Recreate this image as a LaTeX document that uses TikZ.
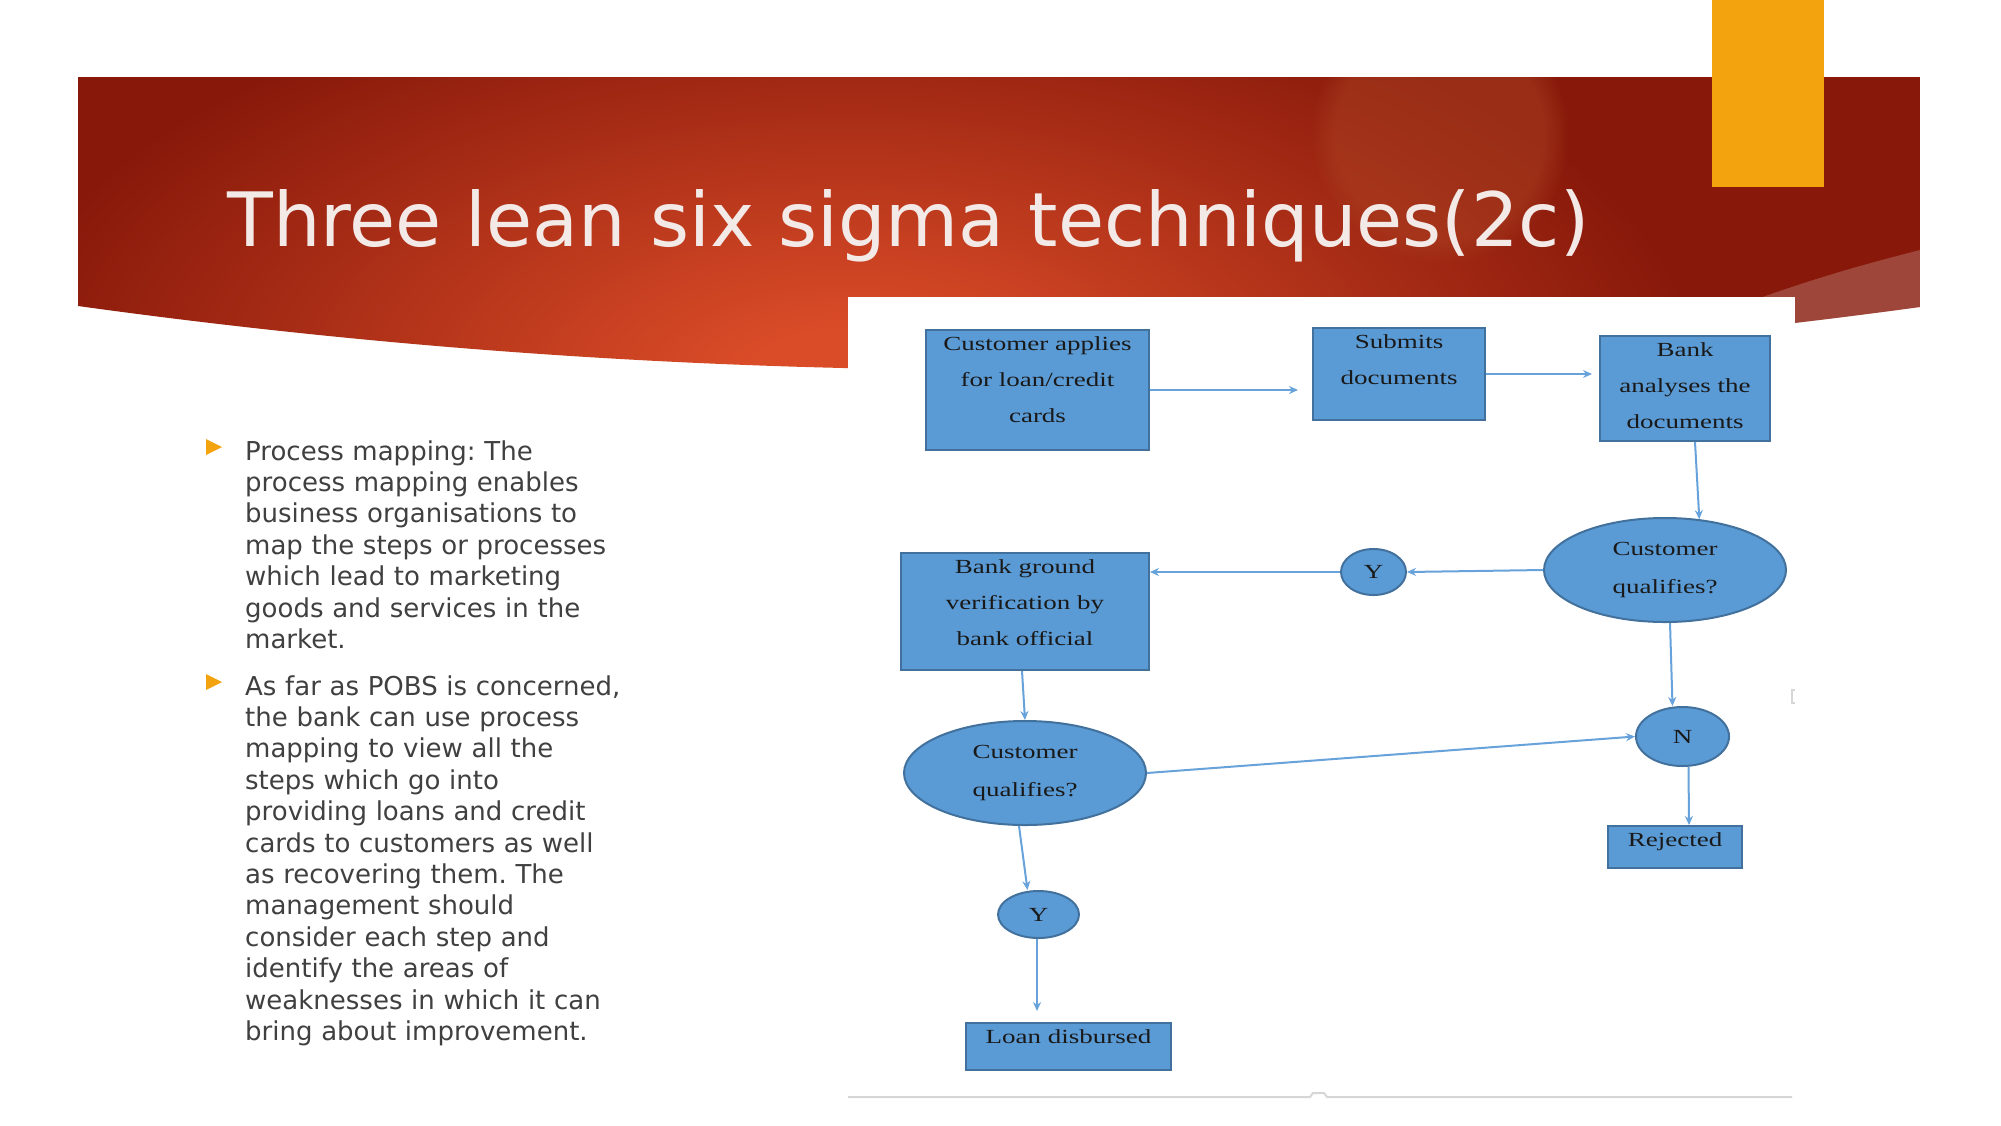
\documentclass[tikz,border=0pt]{standalone}
\usepackage{fontspec}
\setmainfont{DejaVu Sans}
\newfontfamily\flowfont[FakeStretch=1.35]{Liberation Serif}
\usepackage{xcolor}
\usepackage{tikz}
\usetikzlibrary{shapes.geometric, arrows.meta, fadings}
\frenchspacing
\definecolor{bannerdark}{RGB}{135,24,10}
\definecolor{bannerhot}{RGB}{218,76,40}
\definecolor{bannerglow}{RGB}{172,66,34}
\definecolor{accentorange}{RGB}{243,163,13}
\definecolor{titlewhite}{RGB}{243,234,232}
\definecolor{bodygray}{RGB}{64,64,64}
\definecolor{flowblue}{RGB}{91,155,213}
\definecolor{flowedge}{RGB}{65,113,156}
\definecolor{arrowblue}{RGB}{104,162,218}
\definecolor{panelgray}{RGB}{214,214,214}
\pgfdeclareradialshading{bannershade}{\pgfpoint{0bp}{0bp}}{color(0bp)=(bannerhot); color(1.5bp)=(bannerhot); color(12.5bp)=(bannerdark); color(50bp)=(bannerdark)}
\tikzstyle{stepbox} = [rectangle, draw=flowedge, fill=flowblue, line width=2pt, inner xsep=6pt, inner ysep=0pt, text height=20pt, align=center, text=black!90, font=\flowfont\fontsize{20}{36}\selectfont]
\tikzstyle{decision} = [ellipse, draw=flowedge, fill=flowblue, line width=2pt, inner sep=0pt, align=left, text=black!90, font=\flowfont\fontsize{20}{38}\selectfont]
\tikzstyle{answer} = [ellipse, draw=flowedge, fill=flowblue, line width=2pt, inner sep=0pt, text=black!90, font=\flowfont\fontsize{20}{24}\selectfont]
\tikzstyle{flow} = [line width=2pt, draw=arrowblue, -{Stealth[length=9pt, width=8pt]}]
\tikzstyle{bullettext} = [anchor=base west, inner sep=0pt, text width=420pt, align=left, text=bodygray, font=\fontsize{26}{31.4}\selectfont]
\tikzstyle{titletext} = [anchor=base west, inner sep=0pt, text=titlewhite, font=\fontsize{75}{90}\selectfont]

\begin{document}
\begin{tikzpicture}[x=1pt, y=-1pt]

\useasboundingbox (0,0) rectangle (2001,1125);
\fill[white] (0,0) rectangle (2001,1125);

\begin{scope}
\clip (78,77) -- (1920,77) -- (1920,307) .. controls (1306,391) and (692,391) .. (78,306) -- cycle;
\shade[shading=bannershade] (-872,-460) rectangle (2568,1220);
\fill[bannerglow, path fading=circle with fuzzy edge 20 percent, fill opacity=0.5] (1440,135) circle (130);
\fill[white, fill opacity=0.2] (1920,250) .. controls (1850,268) and (1800,282) .. (1700,320) -- (1700,420) -- (1920,420) -- cycle;
\end{scope}

\fill[accentorange] (1712,0) rectangle (1824,187);
\node (title) [titletext] at (227,246) {Three lean six sigma techniques(2c)};

\fill[accentorange] (206,439) -- (222,447) -- (206,455) -- cycle;
\fill[accentorange] (206,674) -- (222,682) -- (206,690) -- cycle;
\node (mapping) [bullettext] at (245,460) {Process mapping: The\\process mapping enables\\business organisations to\\map the steps or processes\\which lead to marketing\\goods and services in the\\market.};
\node (pobs) [bullettext] at (245,695) {As far as POBS is concerned,\\the bank can use process\\mapping to view all the\\steps which go into\\providing loans and credit\\cards to customers as well\\as recovering them. The\\management should\\consider each step and\\identify the areas of\\weaknesses in which it can\\bring about improvement.};

\fill[white] (848,297) rectangle (1795,1097);
\draw[panelgray, line width=2pt] (848,1097) -- (1310,1097) -- (1313,1093) -- (1324,1093) -- (1327,1097) -- (1792,1097);
\draw[panelgray, line width=1.5pt] (1795,690) -- (1792,690) -- (1792,703) -- (1795,703);

\node (apply) [stepbox, text width=211pt, text depth=100pt] at (1037.5,390) {Customer applies\\for loan/credit\\cards};
\node (submit) [stepbox, text width=160pt, text depth=72pt] at (1399,374) {Submits\\documents};
\node (analyse) [stepbox, text width=158pt, text depth=85pt] at (1685,388.5) {Bank\\analyses the\\documents};
\node (qualR) [decision, minimum width=242pt, minimum height=104pt] at (1665,570) {Customer\\qualifies?};
\node (yes1) [answer, minimum width=65pt, minimum height=46pt] at (1373.5,572) {Y};
\node (ground) [stepbox, text width=236pt, text depth=97pt] at (1025,611.5) {Bank ground\\verification by\\bank official};
\node (qualL) [decision, minimum width=242pt, minimum height=104pt] at (1025,773) {Customer\\qualifies?};
\node (no) [answer, minimum width=93pt, minimum height=59pt] at (1682.5,736.5) {N};
\node (rejected) [stepbox, text width=122pt, text depth=22pt] at (1675,847) {Rejected};
\node (yes2) [answer, minimum width=81pt, minimum height=47pt] at (1038.5,914.5) {Y};
\node (loan) [stepbox, text width=193pt, text depth=27pt] at (1068.5,1046.5) {Loan disbursed};

\draw [flow, shorten >=14pt] (apply.east) -- (apply.east -| submit.west);
\draw [flow, shorten >=7pt] (submit.east) -- (submit.east -| analyse.west);
\draw [flow] ([xshift=10pt]analyse.south) -- (qualR.56);
\draw [flow] (qualR.west) -- (yes1.east);
\draw [flow] (yes1.west) -- (yes1.west -| ground.east);
\draw [flow] ([xshift=-3pt]ground.south) -- (qualL.north);
\draw [flow] ([xshift=5pt]qualR.south) -- ([xshift=-10pt]no.north);
\draw [flow] (qualL.east) -- (no.west);
\draw [flow] ([xshift=-6pt]qualL.south) -- ([xshift=-11pt]yes2.north);
\draw [flow, shorten >=11pt] ([xshift=-1.5pt]yes2.south) -- ([xshift=-1.5pt]yes2.south |- loan.north);
\draw [flow] ([xshift=6pt]no.south) -- ([xshift=14pt]rejected.north);

\end{tikzpicture}
\end{document}
